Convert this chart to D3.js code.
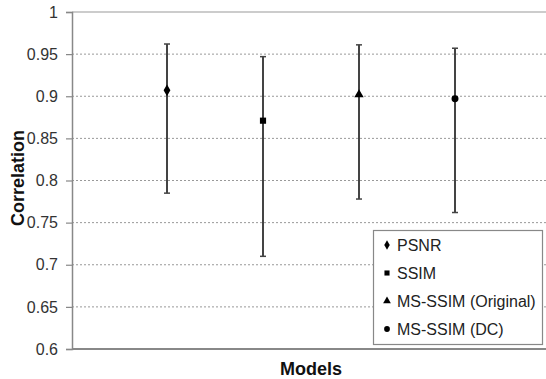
<!DOCTYPE html>
<html>
<head>
<meta charset="utf-8">
<script src="https://cdn.jsdelivr.net/npm/d3@7"></script>
<style>
  body { margin: 0; background: #fff; }
  text { font-family: "Liberation Sans", Arial, sans-serif; }
</style>
</head>
<body>
<svg id="chart" width="546" height="379"></svg>
<script>
"use strict";

// data
const models = ["PSNR", "SSIM", "MS-SSIM (Original)", "MS-SSIM (DC)"];
const means = [0.907, 0.871, 0.902, 0.897];
const upper = [0.962, 0.947, 0.961, 0.957];
const lower = [0.785, 0.710, 0.778, 0.762];
const symbols = [d3.symbolDiamond, d3.symbolSquare, d3.symbolTriangle, d3.symbolCircle];
const yTicks = [0.6, 0.65, 0.7, 0.75, 0.8, 0.85, 0.9, 0.95, 1];

const margin = { left: 72, top: 12, right: 546, bottom: 349 };
const svg = d3.select("#chart");

const x = d3.scalePoint().domain(models).range([167, 455]);
const y = d3.scaleLinear().domain([0.6, 1]).range([margin.bottom, margin.top]);

// grid lines (dotted)
svg.append("g")
  .selectAll("line")
  .data(yTicks.filter((t) => t > 0.6 && t < 1))
  .enter()
  .append("line")
  .attr("x1", margin.left)
  .attr("x2", margin.right)
  .attr("y1", (d) => y(d))
  .attr("y2", (d) => y(d))
  .attr("stroke", "#999")
  .attr("stroke-width", 1)
  .attr("stroke-dasharray", "2,2");

// top border
svg.append("line")
  .attr("x1", margin.left).attr("x2", margin.right)
  .attr("y1", y(1)).attr("y2", y(1))
  .attr("stroke", "#999").attr("stroke-width", 1.2);

// y axis
const yAxis = d3.axisLeft(y)
  .tickValues(yTicks)
  .tickSize(6)
  .tickPadding(8)
  .tickFormat((d) => d3.format("")(+d.toFixed(2)));

const ya = svg.append("g")
  .attr("transform", `translate(${margin.left},0)`)
  .call(yAxis);
ya.select(".domain").attr("stroke", "#888").attr("stroke-width", 1.5);
ya.selectAll(".tick line").attr("stroke", "#888").attr("stroke-width", 1.2);
ya.selectAll(".tick text")
  .attr("fill", "#333")
  .style("font-size", "16px")
  .style("font-family", "'Liberation Sans', Arial, sans-serif");

// bottom axis line
svg.append("line")
  .attr("x1", margin.left).attr("x2", margin.right)
  .attr("y1", y(0.6)).attr("y2", y(0.6))
  .attr("stroke", "#888").attr("stroke-width", 2);

// error bars
const bars = svg.append("g").selectAll("g")
  .data(models)
  .enter()
  .append("g");

bars.append("line")
  .attr("x1", (d) => x(d)).attr("x2", (d) => x(d))
  .attr("y1", (d, i) => y(upper[i]))
  .attr("y2", (d, i) => y(lower[i]))
  .attr("stroke", "#444").attr("stroke-width", 2);

bars.append("line")
  .attr("x1", (d) => x(d) - 3).attr("x2", (d) => x(d) + 3)
  .attr("y1", (d, i) => y(upper[i])).attr("y2", (d, i) => y(upper[i]))
  .attr("stroke", "#444").attr("stroke-width", 1.5);

bars.append("line")
  .attr("x1", (d) => x(d) - 3).attr("x2", (d) => x(d) + 3)
  .attr("y1", (d, i) => y(lower[i])).attr("y2", (d, i) => y(lower[i]))
  .attr("stroke", "#444").attr("stroke-width", 1.5);

bars.append("path")
  .attr("transform", (d, i) => `translate(${x(d)},${y(means[i])})`)
  .attr("d", (d, i) => d3.symbol().type(symbols[i]).size(i == 0 ? 40 : 38)())
  .attr("fill", "#000");

// axis titles
svg.append("text")
  .attr("x", 311).attr("y", 375)
  .attr("text-anchor", "middle")
  .style("font-size", "18px").style("font-weight", "bold")
  .attr("fill", "#111")
  .text("Models");

svg.append("text")
  .attr("transform", "translate(24,178) rotate(-90)")
  .attr("text-anchor", "middle")
  .style("font-size", "18px").style("font-weight", "bold")
  .attr("fill", "#111")
  .text("Correlation");

// legend
const legend = svg.append("g");
legend.append("rect")
  .attr("x", 373.5).attr("y", 230.5)
  .attr("width", 169).attr("height", 114)
  .attr("fill", "#fff")
  .attr("stroke", "#888").attr("stroke-width", 1.2);

const legendY = d3.scalePoint().domain(models).range([245, 329]);
const items = legend.selectAll("g.item")
  .data(models)
  .enter()
  .append("g")
  .attr("class", "item")
  .attr("transform", (d) => `translate(387,${legendY(d)})`);

items.append("path")
  .attr("d", (d, i) => d3.symbol().type(symbols[i]).size(26)())
  .attr("fill", "#000");

items.append("text")
  .attr("x", 10).attr("dy", "0.35em")
  .style("font-size", "16px")
  .attr("fill", "#222")
  .text((d) => d);
</script>
</body>
</html>
